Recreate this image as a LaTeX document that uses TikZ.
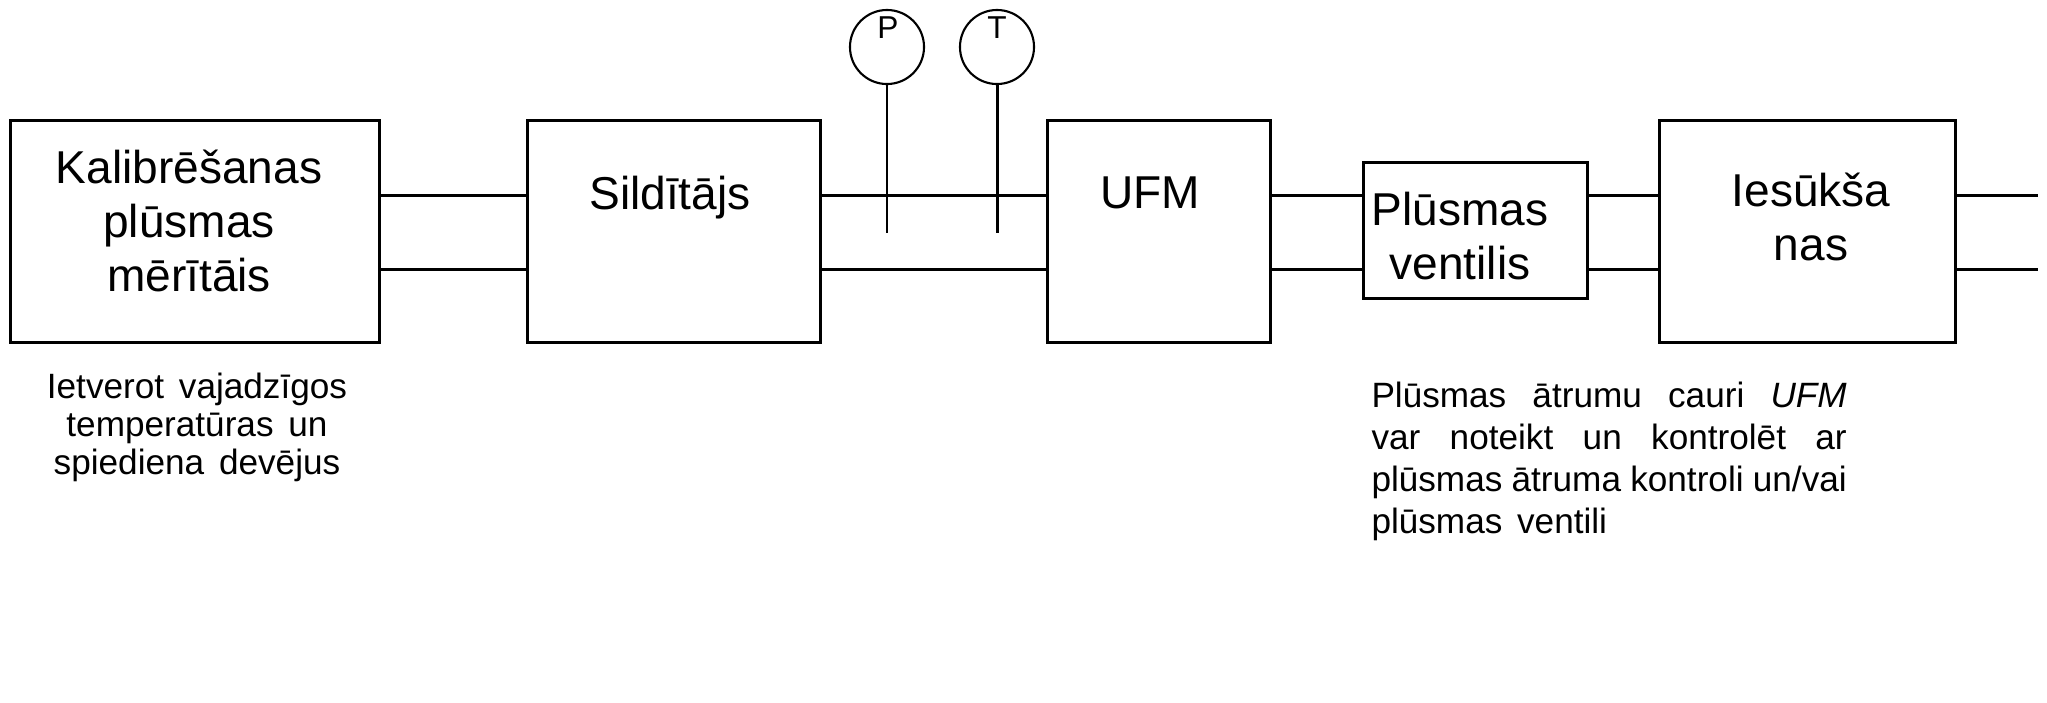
\documentclass[tikz,border=0pt]{standalone}
\usepackage{fontspec}
\setmainfont{Liberation Sans}
\begin{document}
\begin{tikzpicture}[x=0.01cm, y=-0.01cm, line width=0.85pt,
  blk/.style={draw, rectangle, inner sep=0pt},
  bigtxt/.style={font=\fontsize{13.1}{15.3}\selectfont, align=center, inner sep=0pt, anchor=base},
  smalltxt/.style={font=\fontsize{10}{10.8}\selectfont, inner sep=0pt},
  gauge/.style={draw, circle, line width=0.6pt, minimum size=0.74cm, inner sep=0pt},
  gaugetxt/.style={font=\fontsize{9}{9}\selectfont, inner sep=0pt}]
  \useasboundingbox (0,0) rectangle (2047,702);
  \node[blk, minimum width=3.68cm, minimum height=2.21cm] (cal) at (195.0,231.5) {};
  \node[blk, minimum width=2.93cm, minimum height=2.21cm] (sil) at (674.3,231.5) {};
  \node[blk, minimum width=2.22cm, minimum height=2.21cm] (ufm) at (1159.0,231.5) {};
  \node[blk, minimum width=2.23cm, minimum height=1.36cm] (ven) at (1475.5,230.8) {};
  \node[blk, minimum width=2.95cm, minimum height=2.21cm] (ies) at (1807.5,231.5) {};
  \coordinate (exit) at (2038.0,231.5);
  \node[bigtxt] (calT) at (189.0,291.0) {Kalibrēšanas\\plūsmas\\mērītāis};
  \node[bigtxt] (silT) at (670.0,209.0) {Sildītājs};
  \node[bigtxt] (ufmT) at (1150.0,208.0) {UFM};
  \node[bigtxt] (venT) at (1460.0,279.0) {Plūsmas\\ventilis};
  \node[bigtxt] (iesT) at (1811.0,260.0) {Iesūkša\\nas};
  \foreach \a/\b in {cal/sil, sil/ufm, ufm/ven, ven/ies, ies/exit}
    \foreach \y in {195,269}
      \draw (\a.east |- 0,\y) -- (\b.west |- 0,\y);
  \node[gauge] (pG) at (887.0,47.0) {};
  \node[gauge] (tG) at (997.0,47.0) {};
  \node[gaugetxt] (pL) at (888.0,28.0) {P};
  \node[gaugetxt] (tL) at (997.0,28.0) {T};
  \coordinate (pEnd) at (887.0,233.0);
  \coordinate (tEnd) at (997.0,233.0);
  \draw (pG.south) -- (pEnd);
  \draw (tG.south) -- (tEnd);
  \node[smalltxt, align=center, anchor=base] (calN) at (197.0,474.0) {Ietverot\hspace{0.42em}vajadzīgos\\temperatūras\hspace{0.42em}un\\spiediena\hspace{0.42em}devējus};
  \node[smalltxt, font=\fontsize{10}{12.0}\selectfont, text width=4.75cm, align=justify, anchor=base west] (ufmN) at (1370.0,407.0)
    {Plūsmas ātrumu cauri \textit{UFM}\linebreak var noteikt un kontrolēt ar\linebreak plūsmas ātruma kontroli un/vai\linebreak plūsmas\hspace{0.42em}ventili};
\end{tikzpicture}
\end{document}
